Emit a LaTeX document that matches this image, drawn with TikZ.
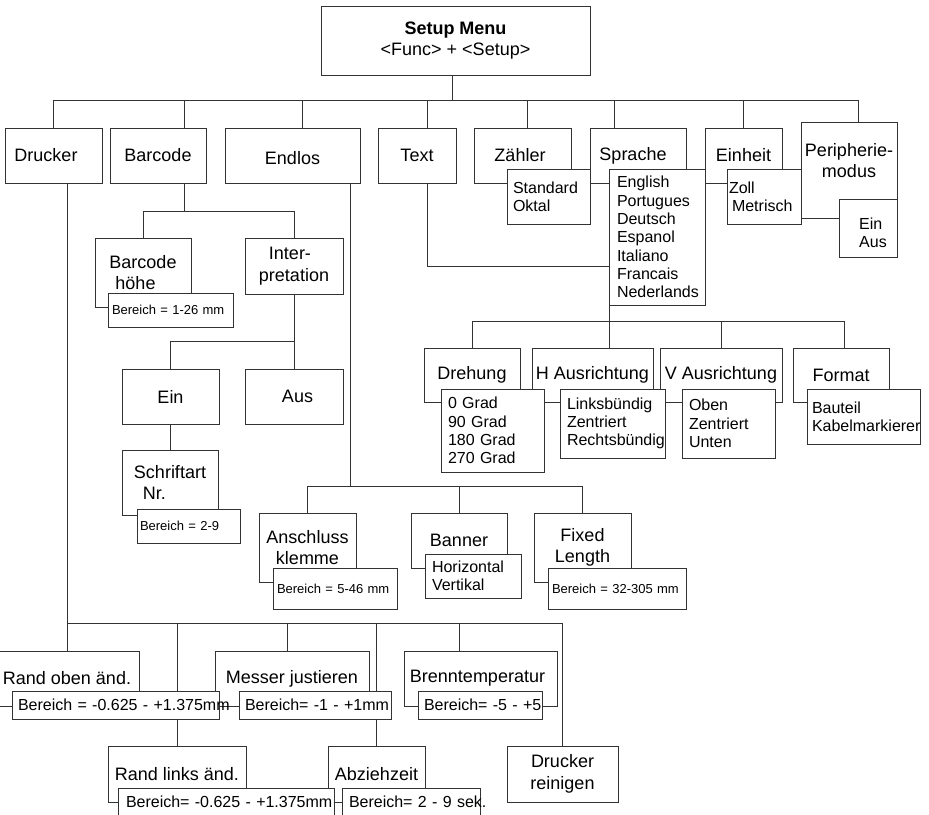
\documentclass[tikz,border=0pt]{standalone}
\usepackage{fontspec}
\setmainfont{Liberation Sans}
\usetikzlibrary{backgrounds}
\definecolor{lc}{gray}{0.2}
\begin{document}
\begin{tikzpicture}[x=1pt,y=-1pt,
  conn/.style={draw=lc, line width=0.9pt},
  mbox/.style={draw=lc, line width=0.9pt, fill=white, anchor=north west, inner sep=0pt, outer sep=0pt, font=\fontsize{18}{21.5}\selectfont, align=center},
  sbox/.style={draw=lc, line width=0.9pt, fill=white, anchor=north west, inner ysep=0pt, outer sep=0pt, font=\fontsize{16}{18.3}\selectfont, align=left},
  rbox/.style={sbox, font=\fontsize{13}{15}\selectfont},
]
\useasboundingbox (0,0) rectangle (929,814);
\clip (0,0) rectangle (929,814);

% ---- top
\node[mbox, minimum width=269pt, minimum height=69pt] (setup) at (321,6) {\textbf{Setup Menu}\\<Func> + <Setup>};

\node[mbox, minimum width=97pt, minimum height=55pt] (drucker) at (5,128) {Drucker\hspace*{15pt}};
\node[mbox, minimum width=96pt, minimum height=55pt] (barcode) at (110,128) {Barcode};
\node[mbox, minimum width=135pt, minimum height=55pt] (endlos) at (225,128) {\raisebox{0pt}[\dimexpr\height+6pt\relax][\depth]{Endlos}};
\node[mbox, minimum width=78pt, minimum height=55pt] (text) at (378,128) {Text};
\node[mbox, minimum width=97pt, minimum height=55pt] (zaehler) at (474,128) {Zähler\hspace*{5pt}};
\node[mbox, minimum width=96pt, minimum height=55pt] (sprache) at (590,128) {Sprache\hspace*{10pt}};
\node[mbox, minimum width=77pt, minimum height=55pt] (einheit) at (705,128) {Einheit};
\node[mbox, minimum width=96pt, minimum height=96pt] (periph) at (801,122) {\raisebox{0pt}[\height][\dimexpr\depth+15pt\relax]{\begin{tabular}{@{}c@{}}Peripherie-\\modus\end{tabular}}};

\node[sbox, inner xsep=6pt, text width=71pt, minimum height=55pt] (zaehlsub) at (507,169) {Standard\\Oktal};
\node[sbox, inner xsep=8pt, text width=80pt, minimum height=136pt] (sprsub) at (609,169) {English\\Portugues\\Deutsch\\Espanol\\Italiano\\Francais\\Nederlands};
\node[sbox, inner xsep=2pt, text width=70pt, minimum height=55pt] (einsub) at (727,169) {Zoll\\\hspace*{3pt}Metrisch};
\node[sbox, inner xsep=0pt, minimum width=58pt, minimum height=58pt] (periphsub) at (839,199) {\hspace*{10pt}\raisebox{0pt}[\dimexpr\height+14pt\relax][\depth]{\begin{tabular}{@{}l@{}}Ein\\Aus\end{tabular}}};

% ---- Barcode
\node[mbox, align=left, minimum width=96pt, minimum height=69pt] (bhoehe) at (95,238) {Barcode\\\hspace*{6pt}höhe};
\node[mbox, align=left, minimum width=98pt, minimum height=56pt] (interp) at (245,238) {\hspace*{10pt}Inter-\\pretation};
\node[mbox, minimum width=97pt, minimum height=55pt] (ein) at (122,369) {Ein};
\node[mbox, minimum width=98pt, minimum height=55pt] (aus) at (245,369) {\hspace*{7pt}Aus};
\node[mbox, align=left, minimum width=96pt, minimum height=65pt] (schrift) at (122,450) {Schriftart\\\hspace*{9pt}Nr.};
\node[rbox, inner xsep=4pt, text width=117pt, minimum height=34pt] (bhsub) at (108,293) {Bereich = 1-26 mm};
\node[rbox, inner xsep=3pt, text width=97pt, minimum height=34pt] (schsub) at (137,509) {Bereich = 2-9};

% ---- Endlos
\node[mbox, minimum width=97pt, minimum height=69pt] (ansch) at (259,513) {Anschluss\\klemme};
\node[mbox, minimum width=96pt, minimum height=55pt] (banner) at (411,513) {Banner};
\node[mbox, minimum width=97pt, minimum height=69pt] (fixed) at (534,513) {Fixed\\Length};
\node[rbox, inner xsep=4pt, text width=116pt, minimum height=41pt] (anschsub) at (273,568) {Bereich = 5-46 mm};
\node[sbox, inner xsep=7pt, text width=82pt, minimum height=44pt] (bannersub) at (425,554) {Horizontal\\Vertikal};
\node[rbox, inner xsep=4pt, text width=130pt, minimum height=41pt] (fixedsub) at (548,568) {Bereich = 32-305 mm};

% ---- Sprache subtree
\node[mbox, minimum width=96pt, minimum height=54pt] (drehung) at (424,348) {Drehung};
\node[mbox, minimum width=121pt, minimum height=54pt] (hausr) at (532,348) {H Ausrichtung};
\node[mbox, minimum width=122pt, minimum height=54pt] (vausr) at (660,348) {V Ausrichtung};
\node[mbox, minimum width=96pt, minimum height=54pt] (format) at (793,348) {Format};
\node[sbox, inner xsep=7pt, text width=89pt, minimum height=83pt] (drehsub) at (441,389) {0 Grad\\90 Grad\\180 Grad\\270 Grad};
\node[sbox, inner xsep=7pt, text width=91pt, minimum height=69pt] (hsub) at (560,389) {Linksbündig\\Zentriert\\Rechtsbündig};
\node[sbox, inner xsep=7pt, text width=79pt, minimum height=69pt] (vsub) at (682,389) {Oben\\Zentriert\\Unten};
\node[sbox, inner xsep=5pt, text width=103pt, minimum height=55pt] (formsub) at (807,389) {Bauteil\\Kabelmarkierer};

% ---- Drucker subtree
\node[mbox, minimum width=144pt, minimum height=55pt] (randoben) at (-5,651) {Rand oben änd.};
\node[mbox, minimum width=154pt, minimum height=55pt] (messer) at (215,651) {Messer justieren};
\node[mbox, minimum width=153pt, minimum height=55pt] (brenn) at (404,651) {Brenntemperatur\hspace*{6pt}};
\node[mbox, minimum width=138pt, minimum height=56pt] (randlinks) at (108,746) {Rand links änd.};
\node[mbox, minimum width=97pt, minimum height=56pt] (abzieh) at (328,746) {Abziehzeit};
\node[mbox, minimum width=111pt, minimum height=56pt] (reinig) at (507,746) {Drucker\\reinigen};
\node[sbox, inner xsep=6pt, text width=195pt, minimum height=28pt] (robsub) at (12,691) {\mbox{Bereich = -0.625 - +1.375mm}};
\node[sbox, inner xsep=6pt, text width=140pt, minimum height=28pt] (messub) at (239,691) {\mbox{Bereich= -1 - +1mm}};
\node[sbox, inner xsep=6pt, text width=112pt, minimum height=28pt] (brsub) at (418,691) {\mbox{Bereich= -5 - +5}};
\node[sbox, inner xsep=8pt, text width=200pt, minimum height=28pt] (rlsub) at (118,788) {\mbox{Bereich= -0.625 - +1.375mm}};
\node[sbox, inner xsep=7pt, text width=124pt, minimum height=28pt] (abzsub) at (342,788) {\mbox{Bereich= 2 - 9 sek.}};

% ---- connectors
\begin{pgfonlayer}{background}
\fill[white] (0,0) rectangle (929,814);
\coordinate (bus1) at (452,100);
\draw[conn] ([xshift=-3.5pt]setup.south) -- (bus1);
\draw[conn] (drucker.north) |- (bus1);
\draw[conn] ([xshift=26pt]barcode.north) |- (bus1);
\draw[conn] ([xshift=9.5pt]endlos.north) |- (bus1);
\draw[conn] ([xshift=10pt]text.north) |- (bus1);
\draw[conn] ([xshift=4.5pt]zaehler.north) |- (bus1);
\draw[conn] ([xshift=-24pt]sprache.north) |- (bus1);
\draw[conn] (einheit.north) |- (bus1);
\draw[conn] ([xshift=9pt]periph.north) |- (bus1);

\coordinate (bus5) at (184,211);
\draw[conn] ([xshift=26pt]barcode.south) -- (bus5);
\draw[conn] (bhoehe.north) |- (bus5);
\draw[conn] (interp.north) |- (bus5);
\draw[conn] (interp.south) -- (aus.north);
\coordinate (j6) at (294,341);
\draw[conn] (ein.north) |- (j6);
\draw[conn] (ein.south) -- (ein.south |- schrift.north);

\coordinate (bus3) at (350,486);
\draw[conn] ([xshift=57.5pt]endlos.south) -- (bus3);
\draw[conn] (ansch.north) |- (bus3);
\draw[conn] (banner.north) |- (bus3);
\draw[conn] (fixed.north) |- (bus3);

\coordinate (tj) at (609,266);
\draw[conn] ([xshift=10pt]text.south) |- (tj);
\coordinate (bus2) at (609,321);
\draw[conn] (sprsub.south west) -- (bus2);
\draw[conn] (drehung.north) |- (bus2);
\draw[conn] ([xshift=16.5pt]hausr.north) -- (bus2);
\draw[conn] (vausr.north) |- (bus2);
\draw[conn] ([xshift=3pt]format.north) |- (bus2);

\coordinate (bus4) at (67,623);
\draw[conn] ([xshift=13.5pt]drucker.south) -- (bus4);
\draw[conn] (randoben.north) |- (bus4);
\draw[conn] (randlinks.north) |- (bus4);
\draw[conn] ([xshift=-5pt]messer.north) |- (bus4);
\draw[conn] (abzieh.north) |- (bus4);
\draw[conn] ([xshift=-21.5pt]brenn.north) |- (bus4);
\draw[conn] (reinig.north) |- (bus4);
\end{pgfonlayer}
\end{tikzpicture}
\end{document}
